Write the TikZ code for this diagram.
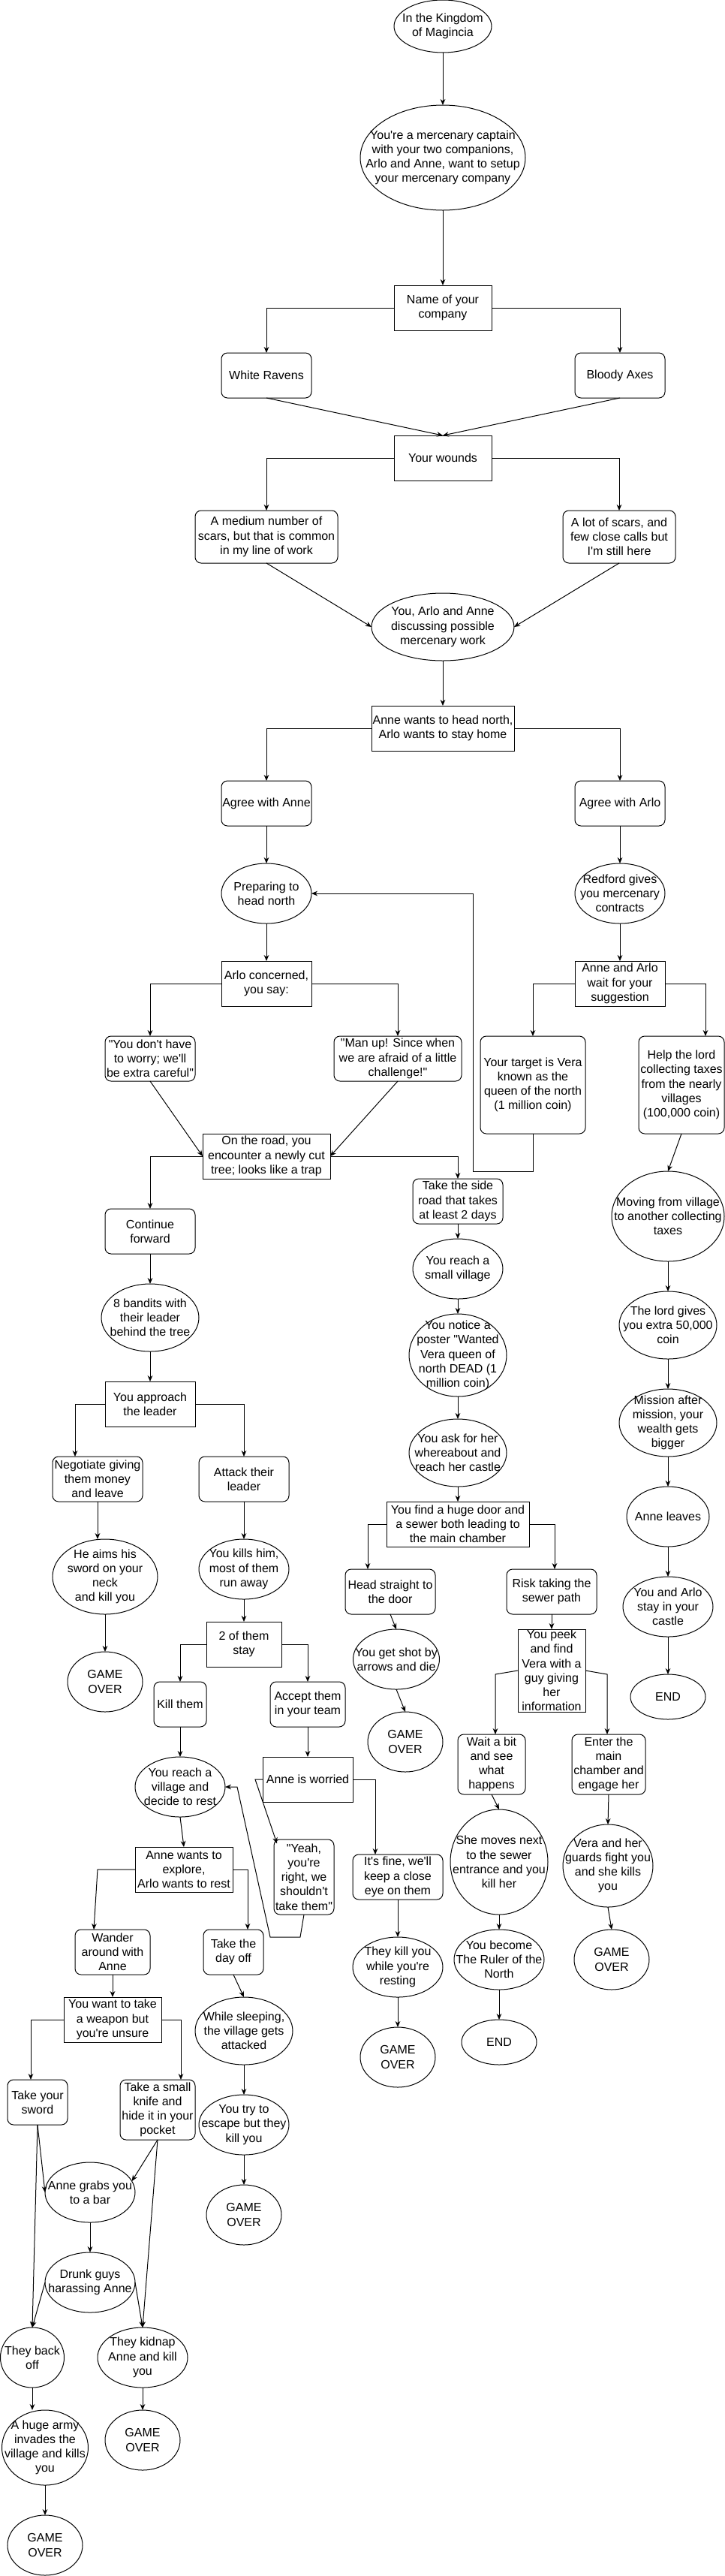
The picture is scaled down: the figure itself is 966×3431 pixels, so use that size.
\documentclass[tikz,border=0pt]{standalone}
\usepackage{fontspec}
\newfontfamily\lsans{Liberation Sans}
\usetikzlibrary{shapes.geometric,arrows.meta,calc}
\tikzset{
 base/.style={draw=black, line width=0.75pt, inner sep=0pt, outer sep=0pt, fill=white},
 sqbox/.style={base, shape=rectangle},
 rnd/.style={base, shape=rectangle, rounded corners=6pt},
 circ/.style={base, shape=ellipse},
 txt/.style={align=center, font=\lsans\fontsize{12}{14.4}\selectfont, inner sep=0pt},
 arr/.style={draw, line width=0.75pt, -{Stealth[length=6pt,width=5pt]}},
}
\newcommand{\mk}[6]{\node[#1,minimum width=#4*0.75pt,minimum height=#5*0.75pt] (#2) at (#3) {};\node[txt] at (#2.center) {#6};}
\begin{document}
\begin{tikzpicture}[x=0.75pt,y=-0.75pt]
\useasboundingbox[fill=white] (0,0) rectangle (966,3431);
\mk{circ}{N1}{590,35}{130}{70}{In the Kingdom\\of Magincia}
\mk{circ}{N2}{590,210}{220}{140}{You're a mercenary captain\\with your two companions,\\Arlo and Anne, want to setup\\your mercenary company}
\mk{sqbox}{N3}{590,410}{130}{60}{Name of your\\company}
\mk{rnd}{N4}{355,500}{120}{60}{White Ravens}
\mk{rnd}{N5}{826,500}{120}{60}{Bloody Axes}
\mk{sqbox}{N6}{590,610}{130}{60}{Your wounds}
\mk{rnd}{N7}{355,715}{190}{70}{A medium number of\\scars, but that is common\\in my line of work}
\mk{rnd}{N8}{825,715}{150}{70}{A lot of scars, and\\few close calls but\\I'm still here}
\mk{circ}{N9}{590,835}{190}{90}{You, Arlo and Anne\\discussing possible\\mercenary work}
\mk{sqbox}{N10}{590,970}{190}{60}{Anne wants to head north,\\Arlo wants to stay home}
\mk{rnd}{N11}{355,1070}{120}{60}{Agree with Anne}
\mk{rnd}{N12}{826,1070}{120}{60}{Agree with Arlo}
\mk{circ}{N13}{355,1190}{120}{80}{Preparing to\\head north}
\mk{circ}{N14}{826,1190}{120}{80}{Redford gives\\you mercenary\\contracts}
\mk{sqbox}{N15}{355,1310}{120}{60}{Arlo concerned,\\you say:}
\mk{rnd}{N16}{200,1410}{120}{60}{"You don't have\\to worry; we'll\\be extra careful"}
\mk{rnd}{N17}{530,1410}{170}{60}{"Man up! Since when\\we are afraid of a little\\challenge!"}
\mk{sqbox}{N18}{826,1310}{120}{60}{Anne and Arlo\\wait for your\\suggestion}
\mk{rnd}{N19}{710,1445}{140}{130}{Your target is Vera\\known as the\\queen of the north\\(1 million coin)}
\mk{rnd}{N20}{908,1445}{114}{130}{Help the lord\\collecting taxes\\from the nearly\\villages\\(100,000 coin)}
\mk{sqbox}{N21}{355,1540}{170}{60}{On the road, you\\encounter a newly cut\\tree; looks like a trap}
\mk{rnd}{N22}{200,1640}{120}{60}{Continue\\forward}
\mk{rnd}{N23}{610,1600}{120}{60}{Take the side\\road that takes\\at least 2 days}
\mk{circ}{N24}{610,1690}{120}{80}{You reach a\\small village}
\mk{circ}{N25}{890,1620}{150}{120}{Moving from village\\to another collecting\\taxes}
\mk{circ}{N26}{890,1765}{130}{90}{The lord gives\\you extra 50,000\\coin}
\mk{circ}{N27}{200,1755}{130}{90}{8 bandits with\\their leader\\behind the tree}
\mk{circ}{N28}{610,1805}{130}{110}{You notice a\\poster "Wanted\\Vera queen of\\north DEAD (1\\million coin)}
\mk{sqbox}{N29}{200,1870}{120}{60}{You approach\\the leader}
\mk{rnd}{N30}{130,1970}{120}{60}{Negotiate giving\\them money\\and leave}
\mk{rnd}{N31}{325,1970}{120}{60}{Attack their\\leader}
\mk{circ}{N32}{610,1935}{130}{90}{You ask for her\\whereabout and\\reach her castle}
\mk{sqbox}{N33}{610,2030}{190}{60}{You find a huge door and\\a sewer both leading to\\the main chamber}
\mk{circ}{N34}{890,1895}{130}{90}{Mission after\\mission, your\\wealth gets\\bigger}
\mk{circ}{N35}{890,2020}{110}{80}{Anne leaves}
\mk{circ}{N36}{140,2100}{140}{100}{He aims his\\sword on your\\neck\\and kill you}
\mk{circ}{N37}{140,2240}{100}{80}{GAME\\OVER}
\mk{circ}{N38}{325,2090}{120}{80}{You kills him,\\most of them\\run away}
\mk{sqbox}{N39}{325,2190}{100}{60}{2 of them\\stay}
\mk{rnd}{N40}{240,2270}{70}{60}{Kill them}
\mk{rnd}{N41}{410,2270}{100}{60}{Accept them\\in your team}
\mk{rnd}{N42}{520,2120}{120}{60}{Head straight to\\the door}
\mk{rnd}{N43}{735,2120}{120}{60}{Risk taking the\\sewer path}
\mk{circ}{N44}{528,2210}{115}{80}{You get shot by\\arrows and die}
\mk{circ}{N45}{540,2320}{100}{80}{GAME\\OVER}
\mk{sqbox}{N46}{735,2225}{90}{110}{You peek\\and find\\Vera with a\\guy giving\\her\\information}
\mk{rnd}{N47}{655,2350}{90}{80}{Wait a bit\\and see\\what\\happens}
\mk{rnd}{N48}{811,2350}{98}{80}{Enter the\\main\\chamber and\\engage her}
\mk{circ}{N49}{890,2140}{120}{80}{You and Arlo\\stay in your\\castle}
\mk{circ}{N50}{890,2260}{100}{60}{END}
\mk{circ}{N51}{240,2380}{120}{80}{You reach a\\village and\\decide to rest}
\mk{sqbox}{N52}{410,2370}{120}{60}{Anne is worried}
\mk{rnd}{N53}{405,2500}{80}{100}{"Yeah,\\you're\\right, we\\shouldn't\\take them"}
\mk{rnd}{N54}{530,2500}{120}{60}{It's fine, we'll\\keep a close\\eye on them}
\mk{circ}{N55}{530,2620}{120}{80}{They kill you\\while you're\\resting}
\mk{circ}{N56}{530,2740}{100}{80}{GAME\\OVER}
\mk{circ}{N57}{665,2480}{130}{140}{She moves next\\to the sewer\\entrance and you\\kill her}
\mk{circ}{N58}{665,2610}{120}{80}{You become\\The Ruler of the\\North}
\mk{circ}{N59}{665,2720}{100}{60}{END}
\mk{circ}{N60}{810,2485}{120}{110}{Vera and her\\guards fight you\\and she kills\\you}
\mk{circ}{N61}{815,2610}{100}{80}{GAME\\OVER}
\mk{sqbox}{N62}{245,2490}{130}{60}{Anne wants to\\explore,\\Arlo wants to rest}
\mk{rnd}{N63}{150,2600}{100}{60}{Wander\\around with\\Anne}
\mk{rnd}{N64}{311,2600}{80}{60}{Take the\\day off}
\mk{sqbox}{N65}{150,2690}{130}{60}{You want to take\\a weapon but\\you're unsure}
\mk{rnd}{N66}{50,2800}{80}{60}{Take your\\sword}
\mk{rnd}{N67}{210,2810}{100}{80}{Take a small\\knife and\\hide it in your\\pocket}
\mk{circ}{N68}{325,2705}{130}{90}{While sleeping,\\the village gets\\attacked}
\mk{circ}{N69}{325,2830}{120}{80}{You try to\\escape but they\\kill you}
\mk{circ}{N70}{325,2950}{100}{80}{GAME\\OVER}
\mk{circ}{N71}{120,2920}{120}{80}{Anne grabs you\\to a bar}
\mk{circ}{N72}{120,3040}{120}{80}{Drunk guys\\harassing Anne}
\mk{circ}{N73}{43,3140}{85}{80}{They back\\off}
\mk{circ}{N74}{190,3140}{120}{80}{They kidnap\\Anne and kill\\you}
\mk{circ}{N75}{60,3260}{115}{100}{A huge army\\invades the\\village and kills\\you}
\mk{circ}{N76}{60,3390}{100}{80}{GAME\\OVER}
\mk{circ}{N77}{190,3250}{100}{80}{GAME\\OVER}
\coordinate (loop) at (630,1560);
% connectors
\draw[arr] (N1.south) -- (N2.north);
\draw[arr] (N2.south) -- (N3.north);
\draw[arr] (N3.west) -| (N4.north);
\draw[arr] (N3.east) -| (N5.north);
\draw[arr] (N4.south) -- (N6.north);
\draw[arr] (N5.south) -- (N6.north);
\draw[arr] (N6.west) -| (N7.north);
\draw[arr] (N6.east) -| (N8.north);
\draw[arr] (N7.south) -- (N9.west);
\draw[arr] (N8.south) -- (N9.east);
\draw[arr] (N9.south) -- (N10.north);
\draw[arr] (N10.west) -| (N11.north);
\draw[arr] (N10.east) -| (N12.north);
\draw[arr] (N11.south) -- (N13.north);
\draw[arr] (N12.south) -- (N14.north);
\draw[arr] (N13.south) -- (N15.north);
\draw[arr] (N14.south) -- (N18.north);
\draw[arr] (N15.west) -| (N16.north);
\draw[arr] (N15.east) -| (N17.north);
\draw[arr] (N18.west) -| (N19.north);
\draw[arr] (N18.east) -| ([xshift=24pt]N20.north);
\draw[arr] (N19.south) |- (loop) |- (N13.east);
\draw[arr] (N16.south) -- (N21.west);
\draw[arr] (N17.south) -- (N21.east);
\draw[arr] (N21.west) -| (N22.north);
\draw[arr] (N21.east) -| (N23.north);
\draw[arr] (N22.south) -- (N27.north);
\draw[arr] (N23.south) -- (N24.north);
\draw[arr] (N20.south) -- (N25.north);
\draw[arr] (N24.south) -- (N28.north);
\draw[arr] (N25.south) -- (N26.north);
\draw[arr] (N27.south) -- (N29.north);
\draw[arr] (N29.west) -| ([xshift=-22.5pt]N30.north);
\draw[arr] (N29.east) -| (N31.north);
\draw[arr] (N28.south) -- (N32.north);
\draw[arr] (N32.south) -- (N33.north);
\draw[arr] (N26.south) -- (N34.north);
\draw[arr] (N34.south) -- (N35.north);
\draw[arr] (N30.south) -- (N30.south |- N36.north);
\draw[arr] (N36.south) -- (N37.north);
\draw[arr] (N31.south) -- (N38.north);
\draw[arr] (N38.south) -- (N39.north);
\draw[arr] (N39.west) -| (N40.north);
\draw[arr] (N39.east) -| (N41.north);
\draw[arr] (N33.west) -| ([xshift=-22.5pt]N42.north);
\draw[arr] (N33.east) -| ([xshift=3pt]N43.north);
\draw[arr] (N42.south) -- (N44.north);
\draw[arr] (N44.south) -- (N45.north);
\draw[arr] (N43.south) -- (N46.north);
\draw[arr] (N46.west) -- ++(-30,5) coordinate (k1) -- (k1 |- N47.north);
\draw[arr] (N46.east) -- ++(29,5) coordinate (k2) -- (k2 |- N48.north);
\draw[arr] (N35.south) -- (N49.north);
\draw[arr] (N49.south) -- (N50.north);
\draw[arr] (N40.south) -- (N51.north);
\draw[arr] (N41.south) -- (N52.north);
\draw[arr] (N52.west) -- ++(-10,0) -- ([xshift=3pt,yshift=-4pt]N53.north west);
\draw[arr] (N52.east) -| ([xshift=-22.5pt]N54.north);
\draw[arr] (N53.south) -- (400,2580) -- (360,2580) -- (316,2380) -- (N51.east);
\draw[arr] (N54.south) -- (N55.north);
\draw[arr] (N55.south) -- (N56.north);
\draw[arr] (N47.south) -- (N57.north);
\draw[arr] (N57.south) -- (N58.north);
\draw[arr] (N58.south) -- (N59.north);
\draw[arr] (N48.south) -- (N60.north);
\draw[arr] (N60.south) -- (N61.north);
\draw[arr] (N51.south) -- (N62.north);
\draw[arr] (N62.west) -- ++(-50,0) -- ([xshift=-18.75pt]N63.north);
\draw[arr] (N62.east) -| ([xshift=14.25pt]N64.north);
\draw[arr] (N63.south) -- (N65.north);
\draw[arr] (N65.west) -| ([xshift=-6.75pt]N66.north);
\draw[arr] (N65.east) -| ([xshift=23.25pt]N67.north);
\draw[arr] (N64.south) -- (N68.north);
\draw[arr] (N68.south) -- (N69.north);
\draw[arr] (N69.south) -- (N70.north);
\draw[arr] (N66.south) -- (N71.west);
\draw[arr] (N66.south) -- (N73.north);
\draw[arr] (N67.south) -- (N71.15);
\draw[arr] (N67.south) -- (N74.north);
\draw[arr] (N71.south) -- (N72.north);
\draw[arr] (N72.west) -- (N73.north);
\draw[arr] (N72.east) -- (N74.north);
\draw[arr] (N73.south) -- (N73.south |- N75.north);
\draw[arr] (N75.south) -- (N76.north);
\draw[arr] (N74.south) -- (N77.north);
\end{tikzpicture}
\end{document}
